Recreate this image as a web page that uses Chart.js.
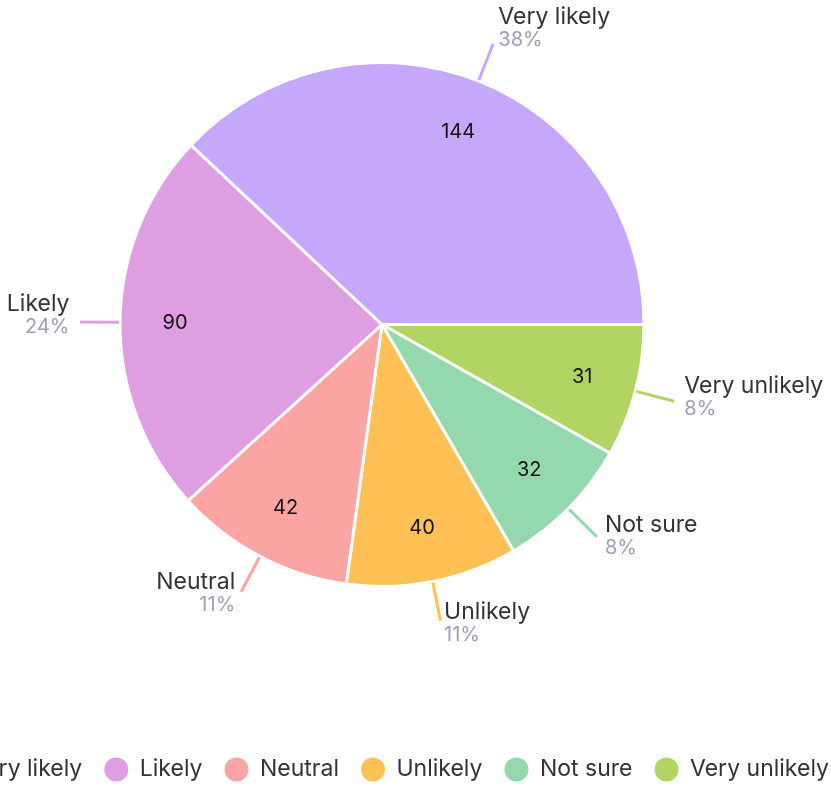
<!DOCTYPE html>
<html>
<head>
<meta charset="utf-8">
<script src="https://cdn.jsdelivr.net/npm/chart.js@4.4.1/dist/chart.umd.min.js"></script>
<style>
  html, body { margin: 0; padding: 0; background: #fff; overflow: hidden; width: 831px; height: 786px; }
  #wrap { position: absolute; left: -118px; top: -87px; width: 1000px; height: 878px; }
</style>
</head>
<body>
<div id="wrap"><canvas id="pieLikely"></canvas></div>
<script>
var categories = ['Very likely', 'Likely', 'Neutral', 'Unlikely', 'Not sure', 'Very unlikely'];
var responses = [144, 90, 42, 40, 32, 31];
var sliceColors = ['#c5a7fc', '#e09ee2', '#fba4a4', '#ffc155', '#93d9ad', '#b2d462'];

var fontFamily = 'Inter, "Noto Sans", sans-serif';
var total = responses.reduce((a, b) => a + b, 0);

// chart.js goes clockwise, the picture goes the other way from 3 o'clock
var drawLabels = categories.slice().reverse();
var drawValues = responses.slice().reverse();
var drawColors = sliceColors.slice().reverse();

const sliceLabels = {
  id: 'sliceLabels',
  afterDatasetsDraw(chart) {
    const ctx = chart.ctx;
    const meta = chart.getDatasetMeta(0);
    const ds = chart.data.datasets[0];
    meta.data.forEach((arc, i) => {
      const value = ds.data[i];
      const mid = (arc.startAngle + arc.endAngle) / 2;
      const cos = Math.cos(mid), sin = Math.sin(mid);
      const R = arc.outerRadius;
      ctx.save();
      // value inside the slice
      ctx.font = '20px ' + fontFamily;
      ctx.fillStyle = '#111';
      ctx.textAlign = 'center';
      ctx.textBaseline = 'middle';
      ctx.fillText(String(value), arc.x + cos * R * 0.79, arc.y + sin * R * 0.79);
      // leader line
      const x2 = arc.x + cos * (R + 40), y2 = arc.y + sin * (R + 40);
      ctx.beginPath();
      ctx.moveTo(arc.x + cos * (R + 1), arc.y + sin * (R + 1));
      ctx.lineTo(x2, y2);
      ctx.strokeStyle = ds.backgroundColor[i];
      ctx.lineWidth = 3;
      ctx.stroke();
      // name and percent
      const right = cos >= 0;
      const gap = 2 + 8.5 * Math.abs(cos);
      const tx = right ? x2 + gap : x2 - gap;
      const base = y2 - 11 + 9 * sin;
      ctx.textAlign = right ? 'left' : 'right';
      ctx.textBaseline = 'alphabetic';
      ctx.font = '23px ' + fontFamily;
      ctx.fillStyle = '#333';
      ctx.fillText(chart.data.labels[i], tx, base);
      ctx.font = '20px ' + fontFamily;
      ctx.fillStyle = '#9d9db8';
      ctx.fillText(Math.round(value / total * 100) + '%', tx, base + 22);
      ctx.restore();
    });
  }
};

const baseLabels = (Chart.overrides.pie || Chart.overrides.doughnut).plugins.legend.labels.generateLabels;

new Chart(document.getElementById('pieLikely'), {
  type: 'pie',
  data: {
    labels: drawLabels,
    datasets: [{
      data: drawValues,
      backgroundColor: drawColors,
      borderColor: '#fff',
      borderWidth: 3,
      radius: 262
    }]
  },
  options: {
    responsive: true,
    maintainAspectRatio: false,
    animation: false,
    rotation: 90,
    plugins: {
      tooltip: { enabled: false },
      legend: {
        position: 'bottom',
        reverse: true,
        labels: {
          usePointStyle: true,
          pointStyle: 'circle',
          boxHeight: 17,
          pointStyleWidth: 24,
          padding: 22,
          color: '#333',
          font: { family: fontFamily, size: 23 },
          generateLabels: (chart) => baseLabels(chart).map(item => Object.assign(item, { lineWidth: 0 }))
        }
      }
    }
  },
  plugins: [sliceLabels]
});
</script>
</body>
</html>
